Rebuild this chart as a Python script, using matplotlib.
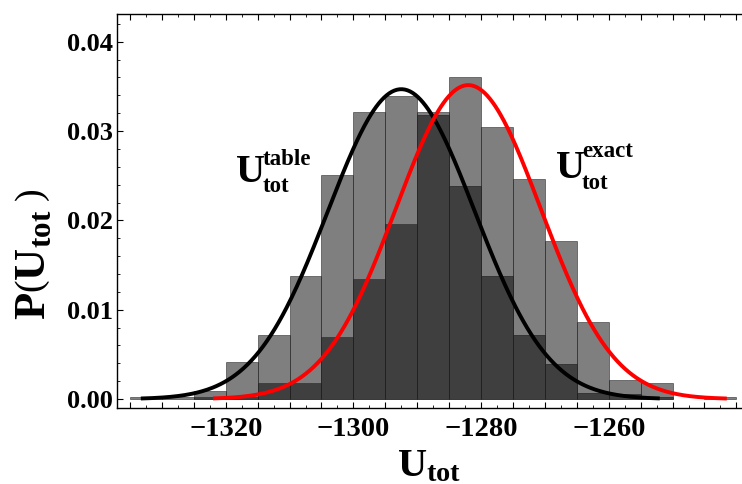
import numpy as np
import matplotlib
matplotlib.use("Agg")
import matplotlib.pyplot as plt
from matplotlib.ticker import MultipleLocator, FuncFormatter

# ---- data ----
bin_left = [-1335, -1330, -1325, -1320, -1315, -1310, -1305, -1300, -1295, -1290,
            -1285, -1280, -1275, -1270, -1265, -1260, -1255, -1250, -1245]
bin_width = 5
table_density = [0.0002, 0.0002, 0.0009, 0.0041, 0.0072, 0.0138, 0.0251, 0.0321, 0.0339, 0.0318,
                 0.0239, 0.0138, 0.0072, 0.0039, 0.0007, 0.0006, 0.0002, 0.0, 0.0]
exact_density = [0.0, 0.0, 0.0002, 0.0002, 0.0018, 0.0018, 0.0070, 0.0134, 0.0196, 0.0321,
                 0.0360, 0.0305, 0.0246, 0.0177, 0.0086, 0.0021, 0.0018, 0.0, 0.0002]

# fitted normal curves (mean, sigma, plotted range)
table_mu, table_sigma, table_range = -1292.5, 11.5, (-1333.3, -1252.0)
exact_mu, exact_sigma, exact_range = -1282.0, 11.35, (-1322.0, -1241.5)

xticks = [-1320, -1300, -1280, -1260]
yticks = [0.00, 0.01, 0.02, 0.03, 0.04]

plt.rcParams['mathtext.fontset'] = 'custom'
plt.rcParams['mathtext.rm'] = 'Liberation Serif'
plt.rcParams['mathtext.bf'] = 'Liberation Serif:bold'
plt.rcParams['mathtext.it'] = 'Liberation Serif:italic'

SERIF = 'Liberation Serif'

fig = plt.figure(figsize=(7.42, 4.84), dpi=100)
ax = fig.add_axes([0.1573, 0.1576, 0.8414, 0.8135])


def draw_hist(heights):
    xs = [b for b, h in zip(bin_left, heights) if h > 0]
    hs = [h for h in heights if h > 0]
    ax.bar(xs, hs, width=bin_width, align='edge',
           facecolor=(0, 0, 0, 0.5), edgecolor=(0.15, 0.15, 0.15, 0.55),
           linewidth=0.7, zorder=2)


draw_hist(table_density)
draw_hist(exact_density)


def gauss(mu, sigma, rng):
    x = np.linspace(rng[0], rng[1], 400)
    y = np.exp(-0.5 * ((x - mu) / sigma) ** 2) / (sigma * np.sqrt(2 * np.pi))
    return x, y


x, y = gauss(table_mu, table_sigma, table_range)
ax.plot(x, y, color='black', lw=2.8, zorder=3, solid_capstyle='butt')
x, y = gauss(exact_mu, exact_sigma, exact_range)
ax.plot(x, y, color='#ff0000', lw=2.8, zorder=4, solid_capstyle='butt')

ax.set_xlim(-1337.08, -1239.27)
ax.set_ylim(-0.00097, 0.04311)

ax.spines['right'].set_visible(False)
for s in ['left', 'bottom', 'top']:
    ax.spines[s].set_linewidth(1.0)

ax.xaxis.set_major_locator(MultipleLocator(5))
ax.xaxis.set_minor_locator(MultipleLocator(2.5))
ax.xaxis.set_major_formatter(FuncFormatter(
    lambda v, p: ('\u2212%d' % abs(round(v))) if round(v) in xticks else ''))
ax.set_yticks(yticks)
ax.yaxis.set_minor_locator(MultipleLocator(0.002))
ax.yaxis.set_major_formatter(FuncFormatter(lambda v, p: '%.2f' % v))

ax.tick_params(axis='x', which='major', direction='in', length=4, width=0.8,
               top=True, pad=7)
ax.tick_params(axis='x', which='minor', direction='in', length=2, width=0.6, top=True)
ax.tick_params(axis='y', which='major', direction='in', length=4.5, width=0.8, pad=2.5)
ax.tick_params(axis='y', which='minor', direction='in', length=2.5, width=0.6)

for lab in ax.get_xticklabels():
    lab.set_fontfamily(SERIF)
    lab.set_fontweight('bold')
    lab.set_fontsize(20.5)
for lab in ax.get_yticklabels():
    lab.set_fontfamily(SERIF)
    lab.set_fontweight('bold')
    lab.set_fontsize(19)

ax.set_xlabel(r'$\mathbf{U_{tot}}$', fontsize=29, labelpad=2)
ax.set_ylabel(r'$\mathbf{P}\left(\mathbf{U}_{\mathbf{tot}}\;\right)$', fontsize=32)
ax.yaxis.set_label_coords(-0.101, 0.39)

# curve labels: big U with superscript / subscript
big = dict(fontsize=29, fontfamily=SERIF, fontweight='bold', ha='left',
           va='baseline', zorder=5)
small = dict(fontsize=16.5, fontfamily=SERIF, fontweight='bold', ha='left',
             va='baseline', zorder=5)
ax.text(-1318.4, 0.02433, 'U', **big)
ax.text(-1314.2, 0.02625, 'table', **small)
ax.text(-1314.2, 0.02320, 'tot', **small)

ax.text(-1268.2, 0.02475, 'U', **big)
ax.text(-1264.2, 0.02705, 'exact', **small)
ax.text(-1264.2, 0.02350, 'tot', **small)

fig.savefig('out.png', dpi=100)
